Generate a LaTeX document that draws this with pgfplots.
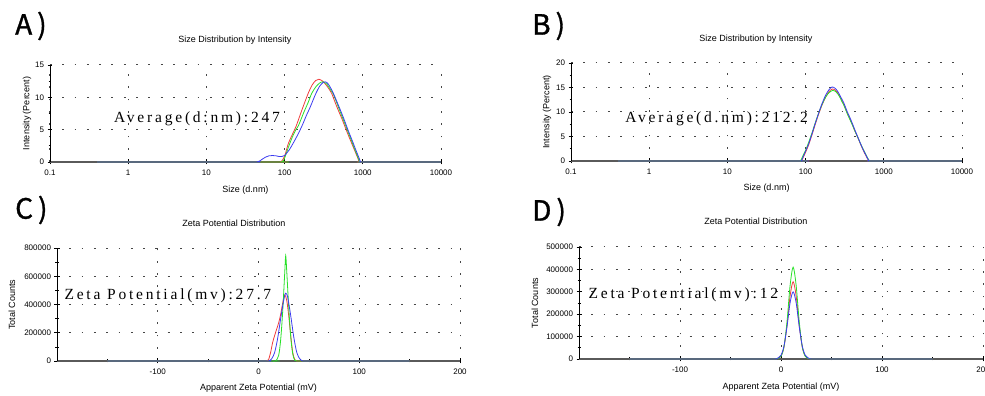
\documentclass[border=0pt]{standalone}
\usepackage{fontspec}
\setmainfont{Liberation Sans}
\newfontfamily\annfont{Liberation Serif}[LetterSpace=18]
\newfontfamily\cjk{Noto Sans CJK SC}[FakeBold=1.2]
\usepackage{pgfplots}
\pgfplotsset{compat=1.18}
\definecolor{cred}{RGB}{240,60,60}
\definecolor{cgreen}{RGB}{40,225,40}
\definecolor{cblue}{RGB}{60,60,240}
\definecolor{gridc}{RGB}{70,70,70}
\definecolor{basec}{RGB}{90,90,90}
\pgfplotsset{
  dls/.style={
    scale only axis,
    axis lines=left,
    axis line style={-, black, line width=0.7pt},
    x axis line style={-, basec, line width=1.5pt},
    tick align=center,
    major tick length=5pt, minor tick length=3pt,
    tick style={black, line width=0.7pt},
    grid=major,
    major grid style={gridc, line width=1pt, dash pattern=on 1.8pt off 10.5pt},
    tick label style={font=\fontsize{8}{9}\selectfont},
    xticklabel style={yshift=-2pt},
    label style={font=\fontsize{9}{10}\selectfont},
    title style={font=\fontsize{9}{10}\selectfont},
    /pgf/number format/assume math mode=true,
    every axis plot/.append style={line width=0.8pt, smooth, tension=0.5, no marks},
    clip=false,
  },
  myzeta/.style={
    xmin=-200, xmax=200, ymin=0,
    xtick={-100,0,100,200},
    minor xtick={-150,-50,50,150},
    scaled y ticks=false,
    yticklabel style={/pgf/number format/fixed, /pgf/number format/1000 sep={}},
    minor y tick num=1,
    xlabel={Apparent Zeta Potential (mV)},
    ylabel={Total Counts},
  },
  mysize/.style={
    xmin=0.1, xmax=10000, ymin=0,
    xtick={0.1,1,10,100,1000,10000},
    xticklabels={0.1,1,10,100,1000,10000},
    minor y tick num=1,
    xlabel={Size (d.nm)},
    ylabel={Intensity (Percent)},
  },
}
\begin{document}
\begin{tikzpicture}[x=1pt,y=1pt]
\useasboundingbox (0,0) rectangle (985,396);
% ---------------- A ----------------
\begin{axis}[xmode=log, log basis x=10, dls, mysize, at={(50pt,234pt)}, anchor=south west,
  width=391pt, height=97pt, ymax=15, ytick={0,5,10,15},
  xlabel style={at={(axis description cs:0.5,-0.289)}, anchor=center},
  ylabel style={at={(axis description cs:-0.059,0.5)}, anchor=center},
  title={Size Distribution by Intensity},
  title style={at={(axis description cs:0.473,1.196)}, anchor=center}]
\addplot[cred] coordinates {(0.4,0) (78,0) (84,0) (88,0) (92,0.15) (100,0.9) (112,2.9) (125,4.2) (140,5.5) (152,6.7) (166,8.0) (182,9.3) (200,10.6) (225,11.9) (250,12.6) (275,12.8) (300,12.6) (330,12.1) (360,11.5) (400,10.6) (440,9.3) (486,8.0) (540,6.7) (590,5.5) (650,4.2) (720,2.9) (780,1.9) (830,1.1) (870,0.5) (900,0) (930,0) (980,0) (10000,0)};
\addplot[cgreen] coordinates {(0.4,0) (80,0) (86,0) (90,0) (95,0.1) (100,0.6) (112,2.3) (125,3.8) (138,4.9) (150,5.6) (175,7.6) (200,9.2) (222,10.6) (250,11.6) (280,12.2) (310,12.4) (350,12.0) (385,11.2) (420,10.5) (480,8.7) (540,7.1) (600,5.7) (660,4.4) (720,3.25) (780,2.1) (840,1.15) (880,0.5) (915,0) (945,0) (990,0) (10000,0)};
\addplot[cblue] coordinates {(0.4,0) (36,0) (40,0) (44,0) (48,0.15) (52,0.45) (57,0.75) (63,0.95) (70,1.0) (78,0.95) (85,0.85) (92,0.85) (100,1.0) (115,1.9) (130,3.0) (150,4.4) (170,5.8) (190,7.2) (211,8.4) (230,9.5) (251,10.6) (280,11.7) (310,12.3) (330,12.4) (360,12.1) (410,10.9) (460,9.5) (518,8.0) (580,6.5) (640,5.1) (700,3.9) (750,3.0) (800,2.1) (850,1.3) (900,0.55) (935,0) (965,0) (1010,0) (10000,0)};
\node[font=\annfont\fontsize{15.5}{16}\selectfont, anchor=west] at (rel axis cs:0.155,0.443) {Average(d:nm):247};
\end{axis}
% ---------------- B ----------------
\begin{axis}[xmode=log, log basis x=10, dls, mysize, at={(571pt,235pt)}, anchor=south west,
  width=391pt, height=98pt, ymax=20, ytick={0,5,10,15,20},
  xlabel style={at={(axis description cs:0.5,-0.276)}, anchor=center},
  ylabel style={at={(axis description cs:-0.061,0.5)}, anchor=center},
  title={Size Distribution by Intensity},
  title style={at={(axis description cs:0.473,1.184)}, anchor=center}]
\addplot[cred] coordinates {(0.4,0) (78,0) (84,0) (88,0) (95,1.0) (100,1.8) (110,3.4) (121,5.4) (133,7.5) (147,9.6) (163,11.5) (180,13.0) (198,14.1) (220,14.7) (242,14.4) (264,13.6) (287,12.5) (310,11.4) (340,9.8) (370,8.5) (395,7.5) (430,6.0) (465,4.8) (502,3.5) (545,2.2) (590,1.1) (620,0.45) (650,0) (680,0) (720,0) (10000,0)};
\addplot[cgreen] coordinates {(0.4,0) (76,0) (82,0) (86,0) (92,1.0) (100,2.2) (110,3.9) (121,5.8) (133,7.8) (147,9.8) (163,11.6) (180,13.0) (198,13.9) (222,14.4) (245,14.1) (268,13.3) (290,12.2) (312,11.2) (340,9.7) (370,8.4) (395,7.4) (430,6.0) (465,4.8) (502,3.6) (545,2.4) (590,1.3) (625,0.55) (660,0) (690,0) (730,0) (10000,0)};
\addplot[cblue] coordinates {(0.4,0) (78,0) (84,0) (88,0) (95,1.2) (100,2.0) (110,3.6) (121,5.6) (133,7.7) (147,9.8) (163,11.8) (180,13.4) (198,14.5) (218,15.1) (240,14.8) (262,14.0) (285,12.9) (309,11.8) (340,10.1) (370,8.8) (395,7.7) (430,6.2) (465,4.9) (502,3.6) (545,2.3) (590,1.2) (620,0.5) (650,0) (680,0) (720,0) (10000,0)};
\node[font=\annfont\fontsize{15.5}{16}\selectfont, anchor=west] at (rel axis cs:0.13,0.43) {Average(d.nm):212.2};
\end{axis}
% ---------------- C ----------------
\begin{axis}[dls, myzeta, at={(57pt,35pt)}, anchor=south west,
  width=403pt, height=113pt, ymax=800000,
  ytick={0,200000,400000,600000,800000},
  xlabel style={at={(axis description cs:0.5,-0.239)}, anchor=center},
  ylabel style={at={(axis description cs:-0.112,0.5)}, anchor=center},
  title={Zeta Potential Distribution},
  title style={at={(axis description cs:0.439,1.168)}, anchor=center}]
\addplot[cred] coordinates {(-150,0) (0,0) (5,0) (8,0) (10,10000) (12,60000) (14,130000) (16,180000) (18,225000) (20,270000) (22,330000) (24,410000) (26,467000) (28,430000) (30,320000) (32,180000) (34,60000) (36,10000) (38,0) (41,0) (46,0) (150,0)};
\addplot[cgreen] coordinates {(-150,0) (10,0) (14,0) (17,0) (20,40000) (22,150000) (24,350000) (26,620000) (27,745000) (28,640000) (30,380000) (32,170000) (34,50000) (36,5000) (38,0) (41,0) (46,0) (150,0)};
\addplot[cblue] coordinates {(-150,0) (2,0) (7,0) (10,0) (13,15000) (16,60000) (19,160000) (22,300000) (25,430000) (27,480000) (29,450000) (32,320000) (35,170000) (38,60000) (41,15000) (44,0) (47,0) (52,0) (150,0)};
\node[font=\annfont\fontsize{15.5}{16}\selectfont, anchor=west] at (rel axis cs:0.01,0.575) {Zeta Potential(mv):27.7};
\end{axis}
% ---------------- D ----------------
\begin{axis}[dls, myzeta, at={(579pt,37pt)}, anchor=south west,
  width=404pt, height=112pt, ymax=500000,
  ytick={0,100000,200000,300000,400000,500000},
  xlabel style={at={(axis description cs:0.5,-0.25)}, anchor=center},
  ylabel style={at={(axis description cs:-0.109,0.5)}, anchor=center},
  title={Zeta Potential Distribution},
  title style={at={(axis description cs:0.438,1.178)}, anchor=center}]
\addplot[cred] coordinates {(-150,0) (-14,0) (-9,0) (-6,0) (-4,1000) (0,13000) (3,55000) (6,153000) (9,281000) (12,345000) (15,281000) (18,153000) (21,55000) (24,13000) (28,1000) (30,0) (33,0) (38,0) (150,0)};
\addplot[cgreen] coordinates {(-150,0) (-14,0) (-9,0) (-6,0) (-4,1000) (0,12000) (3,56000) (6,169000) (9,328000) (12,410000) (15,328000) (18,169000) (21,56000) (24,12000) (28,1000) (30,0) (33,0) (38,0) (150,0)};
\addplot[cblue] coordinates {(-150,0) (-14,0) (-9,0) (-6,0) (-4,1800) (0,17000) (3,59000) (6,146000) (9,251000) (12,300000) (15,251000) (18,146000) (21,59000) (24,17000) (28,1800) (30,0) (33,0) (38,0) (150,0)};
\node[font=\annfont\fontsize{15.5}{16}\selectfont, anchor=west] at (rel axis cs:0.015,0.57) {Zeta Potential(mv):12};
\end{axis}
% panel letters
\node[font=\cjk\fontsize{28}{30}\selectfont, anchor=west, inner sep=0pt] at (15,370) {A\hspace{5pt})};
\node[font=\cjk\fontsize{28}{30}\selectfont, anchor=west, inner sep=0pt] at (532,370) {B\hspace{5pt})};
\node[font=\cjk\fontsize{28}{30}\selectfont, anchor=west, inner sep=0pt] at (15,186) {C\hspace{5pt})};
\node[font=\cjk\fontsize{28}{30}\selectfont, anchor=west, inner sep=0pt] at (532,184) {D\hspace{5pt})};
\end{tikzpicture}
\end{document}
